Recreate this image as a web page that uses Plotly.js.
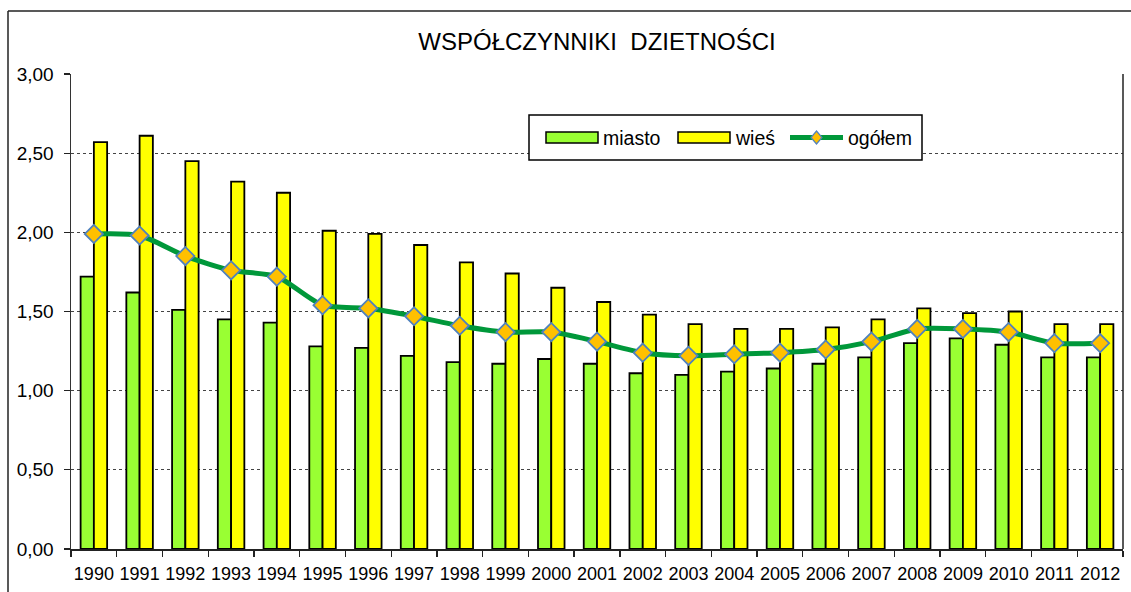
<!DOCTYPE html>
<html>
<head>
<meta charset="utf-8">
<script src="https://cdn.plot.ly/plotly-3.0.1.min.js"></script>
<style>
  html, body { margin: 0; padding: 0; background: #fff; overflow: hidden; }
  #chart { width: 1131px; height: 592px; }
</style>
</head>
<body>
<div id="chart"></div>
<script>
const years = ["1990","1991","1992","1993","1994","1995","1996","1997","1998","1999","2000","2001","2002","2003","2004","2005","2006","2007","2008","2009","2010","2011","2012"];
const miasto = [1.72,1.62,1.51,1.45,1.43,1.28,1.27,1.22,1.18,1.17,1.20,1.17,1.11,1.10,1.12,1.14,1.17,1.21,1.30,1.33,1.29,1.21,1.21];
const wies   = [2.57,2.61,2.45,2.32,2.25,2.01,1.99,1.92,1.81,1.74,1.65,1.56,1.48,1.42,1.39,1.39,1.40,1.45,1.52,1.49,1.50,1.42,1.42];
const ogolem = [1.99,1.98,1.85,1.76,1.72,1.54,1.52,1.47,1.41,1.37,1.37,1.31,1.24,1.22,1.23,1.24,1.26,1.31,1.39,1.39,1.37,1.30,1.30];
const seriesNames = ["miasto", "wieś", "ogółem"];
const titleText = "WSPÓŁCZYNNIKI&nbsp;&nbsp;DZIETNOŚCI";

const W = 1131, H = 592;
const M = {l: 71, r: 8, t: 74, b: 43};
const PW = W - M.l - M.r, PH = H - M.t - M.b;
const px = x => (x - M.l) / PW;
const py = y => (H - M.b - y) / PH;

const FONT = "Liberation Sans, Arial, Helvetica, sans-serif";
const GREEN_BAR = "#99FF33", YELLOW = "#FFFF00", LINE_GREEN = "#00983A";
const MK_FILL = "#FFC000", MK_LINE = "#4F81BD";

const traces = [
  {type: "bar", name: seriesNames[0], x: years, y: miasto,
   marker: {color: GREEN_BAR, line: {color: "#000", width: 1.8}}, showlegend: false, hoverinfo: "y"},
  {type: "bar", name: seriesNames[1], x: years, y: wies,
   marker: {color: YELLOW, line: {color: "#000", width: 1.8}}, showlegend: false, hoverinfo: "y"},
  {type: "scatter", mode: "lines+markers", name: seriesNames[2], x: years, y: ogolem,
   line: {color: LINE_GREEN, width: 5, shape: "spline", smoothing: 0.7},
   marker: {symbol: "diamond", size: 14, color: MK_FILL, line: {color: MK_LINE, width: 1.8}},
   showlegend: false, hoverinfo: "y"}
];

const shapes = [
  // right plot border
  {type: "line", xref: "paper", yref: "paper", x0: 1, x1: 1, y0: 0, y1: 1, line: {color: "#222", width: 1.5}},
  // outer chart frame (top and left)
  {type: "line", xref: "paper", yref: "paper", x0: px(8), x1: px(1140), y0: py(11), y1: py(11), line: {color: "#222", width: 1.5}},
  {type: "line", xref: "paper", yref: "paper", x0: px(8), x1: px(8), y0: py(11), y1: py(600), line: {color: "#222", width: 1.5}},
  // legend box
  {type: "rect", xref: "paper", yref: "paper", x0: px(529), x1: px(922), y0: py(160), y1: py(115),
   fillcolor: "#fff", line: {color: "#000", width: 1.5}},
  // legend symbols
  {type: "rect", xref: "paper", yref: "paper", x0: px(546), x1: px(598), y0: py(143), y1: py(132),
   fillcolor: GREEN_BAR, line: {color: "#000", width: 1.5}},
  {type: "rect", xref: "paper", yref: "paper", x0: px(678), x1: px(730), y0: py(143), y1: py(132),
   fillcolor: YELLOW, line: {color: "#000", width: 1.5}},
  {type: "line", xref: "paper", yref: "paper", x0: px(790), x1: px(843), y0: py(137.5), y1: py(137.5),
   line: {color: LINE_GREEN, width: 5}},
  {type: "path", xref: "paper", yref: "paper",
   path: `M ${px(816.5)} ${py(131)} L ${px(822)} ${py(137.5)} L ${px(816.5)} ${py(144)} L ${px(811)} ${py(137.5)} Z`,
   fillcolor: MK_FILL, line: {color: MK_LINE, width: 1.2}}
];

const legendFont = {family: FONT, size: 19.5, color: "#000"};
const annotations = [
  {xref: "paper", yref: "paper", x: px(601), y: py(138), xanchor: "left", yanchor: "middle", text: seriesNames[0], showarrow: false, font: legendFont},
  {xref: "paper", yref: "paper", x: px(733), y: py(138), xanchor: "left", yanchor: "middle", text: seriesNames[1], showarrow: false, font: legendFont},
  {xref: "paper", yref: "paper", x: px(846), y: py(138), xanchor: "left", yanchor: "middle", text: seriesNames[2], showarrow: false, font: legendFont}
];

const layout = {
  width: W, height: H,
  margin: M,
  paper_bgcolor: "#fff", plot_bgcolor: "#fff",
  separators: ", ",
  font: {family: FONT, color: "#000"},
  title: {text: titleText, font: {family: FONT, size: 24, color: "#000"},
          x: 0.5, xref: "paper", y: 1 - 42 / H, yref: "container", yanchor: "middle"},
  barmode: "group", bargap: 0.42, bargroupgap: 0,
  xaxis: {type: "category", range: [-0.5, years.length - 0.5], autorange: false,
          tickson: "boundaries", ticks: "outside", ticklen: 6, tickwidth: 1.3, tickcolor: "#222",
          tickangle: 0, automargin: false, ticklabelstandoff: 8,
          showline: true, linecolor: "#222", linewidth: 1.5, showgrid: false,
          tickfont: {family: FONT, size: 18, color: "#000"}, fixedrange: true},
  yaxis: {range: [0, 3], autorange: false, dtick: 0.5, tick0: 0, tickformat: ".2f", ticks: "outside", ticklen: 6, tickwidth: 1.3, tickcolor: "#222",
          showline: true, linecolor: "#333", linewidth: 1.5, automargin: false,
          showgrid: true, gridcolor: "#444", gridwidth: 1, griddash: "dot", zeroline: false,
          tickfont: {family: FONT, size: 19, color: "#000"}, ticklabelstandoff: 6, fixedrange: true},
  shapes: shapes,
  annotations: annotations,
  showlegend: false
};

Plotly.newPlot("chart", traces, layout, {staticPlot: true, displayModeBar: false});
</script>
</body>
</html>
